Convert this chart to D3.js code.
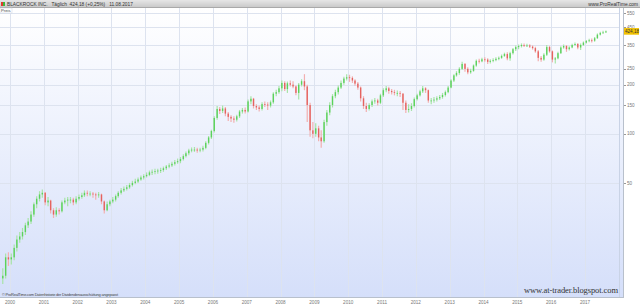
<!DOCTYPE html>
<html>
<head>
<meta charset="utf-8">
<script src="https://cdn.jsdelivr.net/npm/d3@7"></script>
<style>
body{margin:0;background:#fff}
svg{display:block}
</style>
</head>
<body>
<svg width="640" height="305"></svg>
<script>
// monthly candles, Oct 1999 .. Aug 2017
var closes = [13.5,17.5,17,
17.5,20,22.5,23.5,25,27.5,29,32,37,40,42.5,43.5,
38,39,34,32,34,33.5,38,39,39.5,39.5,38,40,
41,42,43.5,43,43,42.5,42,42.5,38.5,34,37,38.5,
39.5,41.5,43.5,45,46,47,48.5,50,51,52.5,54,55,
56,58,58.5,59,59.5,60,61.5,63,64,65.5,67,68,
70,73,76,79,80,80,79,80,82,88,95,104,
125,142,138,143,133,127,124,122,128,137,140,137,
158,164,148,145,142,152,151,149,156,176,180,190,
205,188,204,200,195,178,200,210,195,150,105,100,
108,95,90,118,135,150,170,180,192,205,218,222,
220,212,203,192,165,148,142,150,158,160,155,172,
185,190,183,180,178,178,176,155,140,142,148,163,
172,182,190,185,160,160,162,165,168,173,180,192,
212,228,236,250,268,250,238,243,262,280,278,286,
285,276,280,283,288,292,300,308,290,312,330,340,
345,350,348,348,342,335,320,292,285,305,340,320,
285,290,312,338,345,330,338,350,355,338,350,362,
370,374,372,385,405,415,418,424.18];

var highs = [15,18.5,18.8,
18.5,21,23.8,25,26.5,28.5,30.5,33.5,38,41.5,44.5,45.5,
44,41,39.5,35,35.5,35,39,40.5,41,41,40.5,41.5,
42.5,43.5,45,45,44.5,44,43.5,44,43,39,38.5,39.5,
41,42.5,44.5,46.5,47.5,48.5,50,51.5,53,54,55.5,56.5,
58,59.5,60.5,61,61,62,63,64.5,66,67.5,69,70.5,
72,75,78,81,82.5,83,82,82,84.5,90,97,106,
128,148,146,149,146,136,130,128,131,140,144,145,
162,170,166,152,149,156,158,156,160,180,186,196,
212,210,209,212,210,198,205,216,232,200,155,118,
116,112,105,122,140,156,175,186,198,212,224,232,
230,225,216,208,195,170,155,154,162,166,164,176,
190,196,194,188,186,184,183,178,160,152,154,167,
176,186,196,193,187,166,168,170,173,178,184,196,
216,232,242,256,276,272,256,250,266,285,288,292,
294,290,286,290,294,298,306,314,316,318,336,348,
352,358,358,356,354,348,342,326,300,312,350,346,
324,296,318,344,352,350,344,356,362,360,358,368,
376,382,384,392,412,422,428,430];

var lows = [12,13,15.5,
15.8,16.8,19,21.5,22.5,24,26.5,28,31,35,38.5,40.5,
36.5,36,32.5,30.5,31,32,33,37,36,37.5,36.5,37,
39,40,41,41.5,41.5,40.5,39.5,40.5,37,32.5,33.5,36,
37.5,38.5,40.5,42.5,44,45,46,47.5,49,50,51.5,52.5,
54,55,56,56.5,57,57.5,58.5,60,61.5,62.5,64,65.5,
66,68.5,71.5,74,77,77.5,76.5,77,78,80.5,86,93,
102,122,132,134,128,120,118,117,119,125,133,133,
135,152,143,140,137,139,146,140,145,153,170,176,
182,183,178,195,190,172,162,195,185,118,96,94,
96,90,82,88,112,130,145,165,174,188,200,212,
208,205,197,186,158,142,136,139,146,153,149,152,
168,180,176,174,172,170,168,140,134,135,138,145,
160,169,178,178,155,152,155,158,161,164,169,177,
190,208,224,230,246,240,232,233,240,258,270,274,
276,268,270,274,278,282,288,296,282,280,306,322,
330,338,340,340,336,328,314,278,276,280,300,314,
274,270,286,308,332,318,324,334,346,330,326,346,
358,364,362,366,382,400,410,416];

var firstOpen = 13;
var yTicks = [50,100,150,200,250,350,450,550];
var lastPrice = 424.18;
var lastLabel = "424,18";
var headerText = "BLACKROCK INC.   Täglich  424,18 (+0,25%)   11.08.2017";

var svg = d3.select('svg');
var width = +svg.attr('width'), height = +svg.attr('height');
var plotR = 619, plotT = 8, plotB = 297;

var months = d3.timeMonth.range(new Date(1999,9,1), new Date(2017,8,1));
var candles = months.map(function(m,i){
  return {date: d3.timeDay.offset(m, 14), o: i ? closes[i-1] : firstOpen, h: highs[i], l: lows[i], c: closes[i]};
});

var x = d3.scaleTime().domain([new Date(2000,0,1), new Date(2017,0,1)]).range([10, 585]);
var y = d3.scaleLog().domain([10, 590]).range([plotB, plotT]);

var defs = svg.append('defs');
var bg = defs.append('linearGradient').attr('id','bg').attr('x1',0).attr('y1',0).attr('x2',0).attr('y2',1);
bg.append('stop').attr('offset','0%').attr('stop-color','#ffffff');
bg.append('stop').attr('offset','100%').attr('stop-color','#d5dffa');
var hd = defs.append('linearGradient').attr('id','hd').attr('x1',0).attr('y1',0).attr('x2',0).attr('y2',1);
hd.append('stop').attr('offset','0%').attr('stop-color','#e6e6e6');
hd.append('stop').attr('offset','100%').attr('stop-color','#c6c6c6');
defs.append('clipPath').attr('id','clip').append('rect')
  .attr('x',0).attr('y',plotT).attr('width',plotR).attr('height',plotB-plotT);

svg.append('rect').attr('width',width).attr('height',height).attr('fill','#fff');
svg.append('rect').attr('x',0).attr('y',plotT).attr('width',623).attr('height',plotB-plotT).attr('fill','url(#bg)');

// grid
var grid = svg.append('g').attr('clip-path','url(#clip)');
grid.selectAll('line.h').data(yTicks).enter().append('line')
  .attr('x1',0).attr('x2',plotR).attr('y1',function(d){return Math.round(y(d))+0.5;}).attr('y2',function(d){return Math.round(y(d))+0.5;})
  .attr('stroke','#dde3ef').attr('stroke-width',1);
var years = d3.timeYear.range(new Date(2000,0,1), new Date(2018,0,1));
grid.selectAll('line.v').data(years).enter().append('line')
  .attr('y1',plotT).attr('y2',plotB).attr('x1',function(d){return Math.round(x(d))+0.5;}).attr('x2',function(d){return Math.round(x(d))+0.5;})
  .attr('stroke','#dde3ef').attr('stroke-width',1);

// candles
var cg = svg.append('g').attr('clip-path','url(#clip)');
cg.selectAll('line.wick').data(candles).enter().append('line')
  .attr('x1',function(d){return x(d.date);}).attr('x2',function(d){return x(d.date);})
  .attr('y1',function(d){return y(d.h);}).attr('y2',function(d){return y(d.l);})
  .attr('stroke',function(d){return d.c>=d.o ? '#a8e4a8' : '#f2b0b0';}).attr('stroke-width',1.2);
cg.selectAll('rect.body').data(candles).enter().append('rect')
  .attr('x',function(d){return x(d.date)-0.7;})
  .attr('width',1.4)
  .attr('y',function(d){return y(Math.max(d.o,d.c));})
  .attr('height',function(d){return Math.max(0.8, Math.abs(y(d.o)-y(d.c)));})
  .attr('fill',function(d){return d.c>=d.o ? '#52cf52' : '#e35a55';})
  .attr('fill-opacity',0.9);

// borders
svg.append('line').attr('x1',plotR+0.5).attr('x2',plotR+0.5).attr('y1',plotT).attr('y2',plotB).attr('stroke','#c9d3e6');
svg.append('line').attr('x1',623.5).attr('x2',623.5).attr('y1',plotT).attr('y2',plotB).attr('stroke','#b8c0cc');
svg.append('line').attr('x1',0).attr('x2',624).attr('y1',plotB+0.5).attr('y2',plotB+0.5).attr('stroke','#b8c0cc');

// right axis
var ax = svg.append('g');
ax.selectAll('line').data(yTicks).enter().append('line')
  .attr('x1',624).attr('x2',626).attr('y1',function(d){return Math.round(y(d))+0.5;}).attr('y2',function(d){return Math.round(y(d))+0.5;})
  .attr('stroke','#999');
ax.selectAll('text').data(yTicks).enter().append('text')
  .attr('x',627).attr('y',function(d){return y(d);}).attr('dy','0.35em')
  .attr('font-family','Liberation Sans, Arial, sans-serif').attr('font-size',4.6).attr('fill','#777')
  .text(function(d){return d;});
svg.append('rect').attr('x',624).attr('y',y(lastPrice)-3.3).attr('width',15).attr('height',6.6).attr('fill','#f2c200');
svg.append('text').attr('x',625).attr('y',y(lastPrice)).attr('dy','0.35em')
  .attr('font-family','Liberation Sans, Arial, sans-serif').attr('font-size',4.6).attr('fill','#333').text(lastLabel);

// bottom axis
svg.selectAll('text.yr').data(years).enter().append('text')
  .attr('x',function(d){return x(d);}).attr('y',303.5).attr('text-anchor','middle')
  .attr('font-family','Liberation Sans, Arial, sans-serif').attr('font-size',4.6).attr('fill','#777')
  .text(d3.timeFormat('%Y'));

// header
svg.append('rect').attr('x',0).attr('y',0).attr('width',width).attr('height',plotT).attr('fill','url(#hd)');
svg.append('line').attr('x1',0).attr('x2',width).attr('y1',plotT-0.5).attr('y2',plotT-0.5).attr('stroke','#a9a9a9');
svg.append('rect').attr('x',1).attr('y',2).attr('width',2).attr('height',4).attr('fill','#e03a30');
svg.append('rect').attr('x',3).attr('y',2).attr('width',2).attr('height',4).attr('fill','#3cb83c');
svg.append('text').attr('x',7).attr('y',5.8).attr('font-family','Liberation Sans, Arial, sans-serif')
  .attr('font-size',4.8).attr('fill','#333').attr('xml:space','preserve').text(headerText);
svg.append('text').attr('x',638).attr('y',5.8).attr('text-anchor','end').attr('font-family','Liberation Sans, Arial, sans-serif')
  .attr('font-size',4.8).attr('fill','#333').text('www.ProRealTime.com');

// "Preis" tab
svg.append('rect').attr('x',0).attr('y',plotT).attr('width',12).attr('height',5).attr('fill','#fff').attr('stroke','#cfd6e2').attr('stroke-width',0.5);
svg.append('text').attr('x',1).attr('y',12).attr('font-family','Liberation Sans, Arial, sans-serif')
  .attr('font-size',4.2).attr('fill','#444').text('Preis');

// footer texts
svg.append('text').attr('x',2).attr('y',296).attr('font-family','Liberation Sans, Arial, sans-serif')
  .attr('font-size',4).attr('fill','#444').attr('textLength',116)
  .text('© ProRealTime.com Datenhistorie der Dividendenausschüttung angepasst');
svg.append('text').attr('x',524).attr('y',292.5).attr('font-family','Liberation Serif, Times New Roman, serif')
  .attr('font-size',8.5).attr('fill','#333').attr('textLength',94)
  .text('www.at-trader.blogspot.com');
</script>
</body>
</html>
